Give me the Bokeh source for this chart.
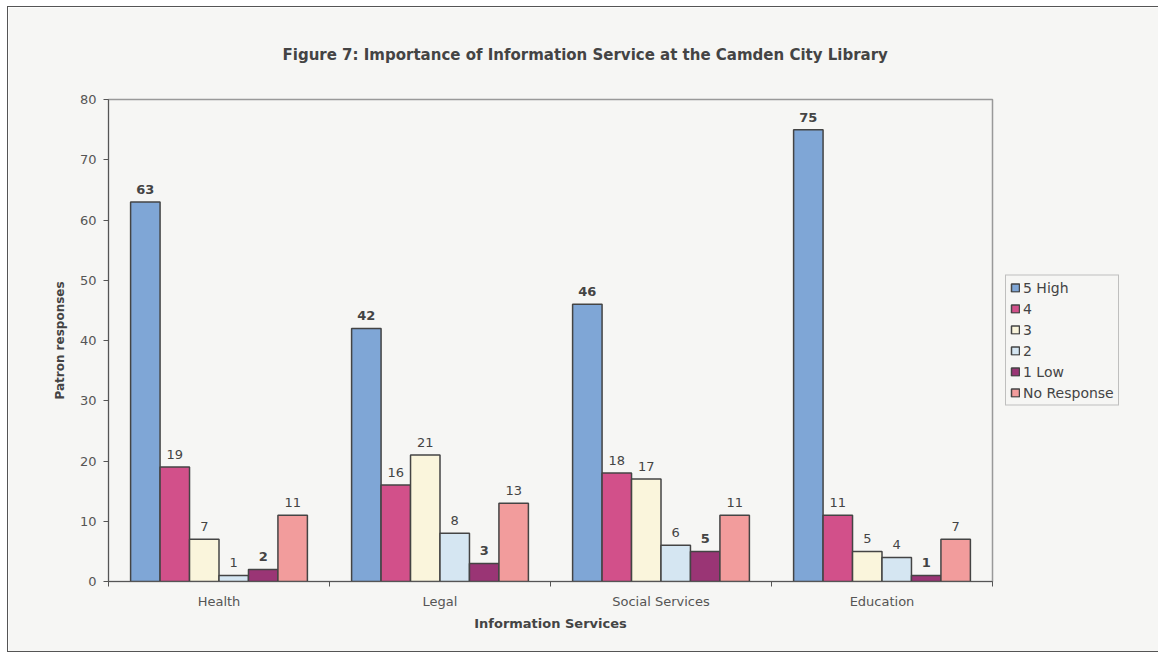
from bokeh.plotting import figure
from bokeh.models import (ColumnDataSource, Range1d, LinearAxis, FixedTicker, LabelSet,
                          Legend, LegendItem, Title)
from bokeh.core.properties import value
from bokeh.transform import dodge
from bokeh.embed import file_html
from bokeh.resources import INLINE

categories = ["Health", "Legal", "Social Services", "Education"]
series_names = ["5 High", "4", "3", "2", "1 Low", "No Response"]
high5 = [63, 42, 46, 75]
four = [19, 16, 18, 11]
three = [7, 21, 17, 5]
two = [1, 8, 6, 4]
low1 = [2, 3, 5, 1]
no_response = [11, 13, 11, 7]
colors = ["#7fa6d6", "#d2508a", "#faf5dc", "#d5e6f2", "#9a3575", "#f29c9c"]
y_ticks = [0, 10, 20, 30, 40, 50, 60, 70, 80]

series = [high5, four, three, two, low1, no_response]
keys = ["s0", "s1", "s2", "s3", "s4", "s5"]
centers = [i + 0.5 for i in range(len(categories))]
data = {"xc": centers}
for k, s in zip(keys, series):
    data[k] = s
    data[k + "_t"] = [str(v) for v in s]
source = ColumnDataSource(data)

FONT = "DejaVu Sans"
BG = "#f6f6f4"
TXT = "#444444"

p = figure(frame_width=884, frame_height=482, output_backend="svg", toolbar_location=None,
           x_range=Range1d(0, len(categories)), y_range=Range1d(0, 80),
           x_axis_location=None, y_axis_location="left",
           min_border_left=100, min_border_right=163, min_border_top=91, min_border_bottom=70,
           background_fill_color=BG, border_fill_color=BG)
p.styles = {"border": "1px solid #555", "margin-left": "7px", "margin-top": "6px"}
p.xgrid.visible = False
p.ygrid.visible = False
p.outline_line_color = "#999999"
p.outline_line_width = 1.5

p.title = Title(text="Figure 7: Importance of Information Service at the Camden City Library",
                align="left", offset=174, text_font=FONT, text_font_size="15px",
                text_font_style="bold", text_color=TXT, standoff=72)

# y axis
ya = p.yaxis[0]
ya.ticker = FixedTicker(ticks=y_ticks)
ya.axis_label = "Patron responses"
ya.axis_label_text_font = FONT
ya.axis_label_text_font_size = "12px"
ya.axis_label_text_font_style = "bold"
ya.axis_label_text_color = TXT
ya.major_label_text_font = FONT
ya.major_label_text_font_size = "13px"
ya.major_label_text_color = "#555555"
ya.major_label_standoff = 7
ya.axis_line_color = "#555555"
ya.major_tick_line_color = "#555555"
ya.major_tick_in = 0
ya.major_tick_out = 5
ya.minor_tick_line_color = None
ya.axis_label_standoff = 10

# x axis: labels at category centres, tick marks at category boundaries
x_axis = LinearAxis(ticker=FixedTicker(ticks=centers, minor_ticks=list(range(len(categories) + 1))),
                    major_label_overrides={c: n for c, n in zip(centers, categories)},
                    axis_line_color="#555555", major_tick_line_color=None,
                    minor_tick_line_color="#555555", minor_tick_in=0, minor_tick_out=5,
                    major_label_text_font=FONT, major_label_text_font_size="13px",
                    major_label_text_color="#555555", major_label_standoff=6,
                    axis_label="Information Services", axis_label_text_font=FONT,
                    axis_label_text_font_size="13px", axis_label_text_font_style="bold",
                    axis_label_text_color=TXT, axis_label_standoff=4)
p.add_layout(x_axis, "below")

w = 0.8 / 6
offsets = [-0.4 + w * (i + 0.5) for i in range(6)]
items = []
for i, k in enumerate(keys):
    r = p.vbar(x=dodge("xc", offsets[i]), top=k, width=w, source=source,
               fill_color=colors[i], line_color="#444444", line_width=1.5)
    items.append(LegendItem(label=series_names[i], renderers=[r]))
    bold = i in (0, 4)
    lbl = LabelSet(x=dodge("xc", offsets[i]), y=k, text=k + "_t",
                   source=source, text_align="center", text_baseline="bottom", y_offset=8,
                   text_font=value(FONT), text_font_size=value("13px"),
                   text_font_style=value("bold" if bold else "normal"), text_color=value(TXT))
    p.add_layout(lbl)

legend = Legend(items=items, location="center_left", orientation="vertical",
                label_text_font=FONT, label_text_font_size="14px", label_text_color=TXT,
                glyph_width=10, glyph_height=10, label_height=15, spacing=5,
                padding=4, margin=13, label_standoff=3,
                border_line_color="#888888", background_fill_color=BG, background_fill_alpha=1)
p.add_layout(legend, "right")

open("out.html", "w").write(file_html(p, INLINE))
